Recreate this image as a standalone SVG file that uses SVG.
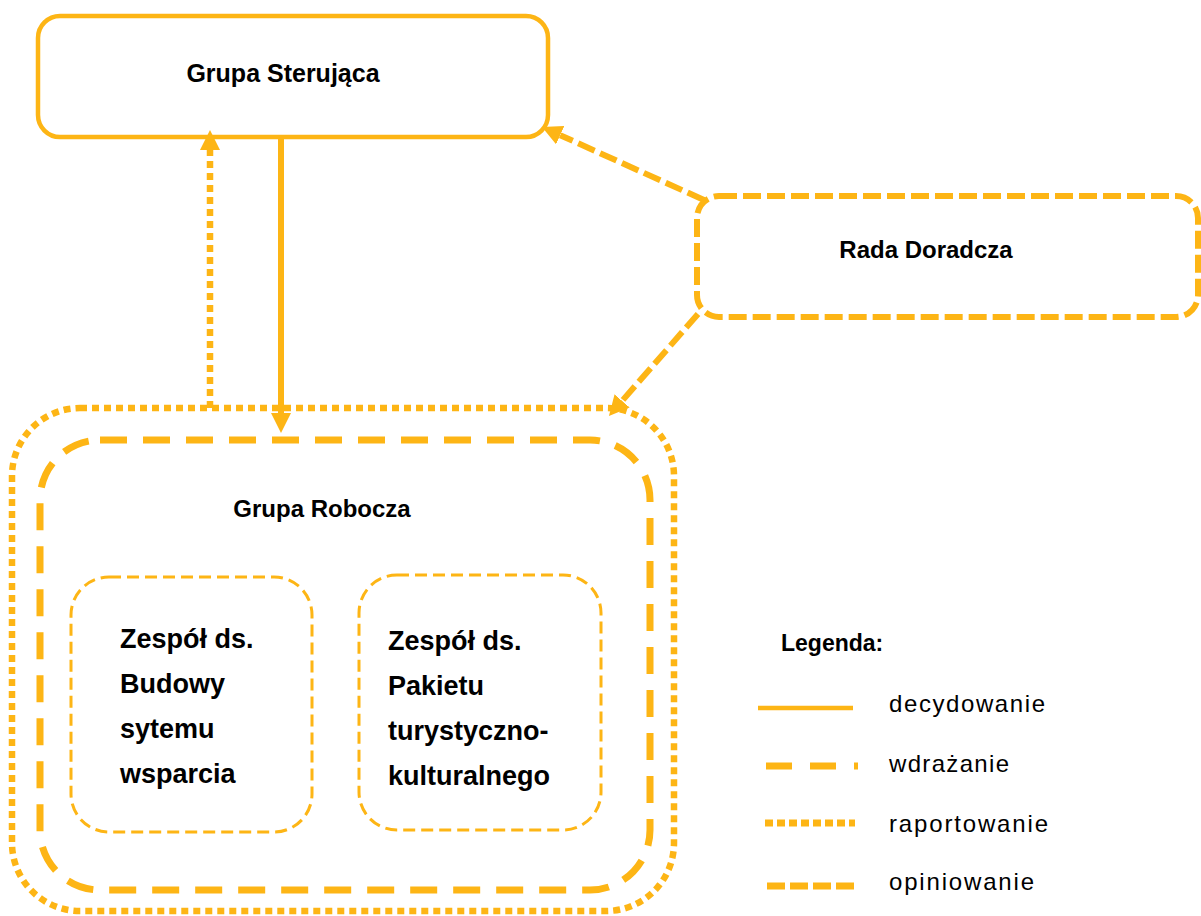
<svg xmlns="http://www.w3.org/2000/svg" width="1201" height="916" viewBox="0 0 1201 916">
<style>
.node{fill:#fff;stroke:#FDB515;}
.solid{stroke-width:4.5;}
.opin{stroke-width:6;stroke-dasharray:18 6;}
.wdr{stroke-width:7;stroke-dasharray:27 16;fill:none;}
.rap{stroke-width:6.5;stroke-dasharray:7 5;}
.thin{stroke-width:3;stroke-dasharray:12 6;}
.lbl{font-family:"Liberation Sans",Arial,sans-serif;font-weight:bold;fill:#000;}
.leg{font-family:"Liberation Sans",Arial,sans-serif;font-size:24px;fill:#000;}
.c{fill:none;stroke:#FDB515;}
</style>
<defs>
<marker id="arr" markerWidth="20" markerHeight="20" refX="0" refY="10" orient="auto" markerUnits="userSpaceOnUse">
<path d="M0,0 L20,10 L0,20 z" fill="#FDB515"/>
</marker>
</defs>
<rect width="1201" height="916" fill="#fff"/>

<g id="grupa-robocza">
<rect class="node rap" x="12" y="408" width="662" height="503" rx="68"/>
<rect class="node wdr" x="40" y="440" width="610" height="450" rx="60"/>
<text class="lbl" x="322" y="517" font-size="24" text-anchor="middle">Grupa Robocza</text>
</g>

<g id="zespol-budowy">
<rect class="node thin" x="71" y="577" width="241" height="255" rx="38"/>
<text class="lbl" font-size="27"><tspan x="120" y="648">Zespół ds.</tspan><tspan x="120" y="693">Budowy</tspan><tspan x="120" y="738">sytemu</tspan><tspan x="120" y="783">wsparcia</tspan></text>
</g>

<g id="zespol-pakietu">
<rect class="node thin" x="359" y="575" width="242" height="255" rx="38"/>
<text class="lbl" font-size="27"><tspan x="388" y="650">Zespół ds.</tspan><tspan x="388" y="695">Pakietu</tspan><tspan x="388" y="740">turystyczno-</tspan><tspan x="388" y="785">kulturalnego</tspan></text>
</g>

<g id="grupa-sterujaca">
<rect class="node solid" x="38" y="16" width="510" height="121" rx="22"/>
<text class="lbl" x="283" y="82" font-size="25" text-anchor="middle">Grupa Sterująca</text>
</g>

<g id="rada-doradcza">
<rect class="node opin" x="697" y="196" width="501" height="121" rx="22"/>
<text class="lbl" x="926" y="258" font-size="24" text-anchor="middle">Rada Doradcza</text>
</g>

<g id="connectors">
<line class="c" x1="281" y1="138" x2="281" y2="413" stroke-width="6" marker-end="url(#arr)"/>
<line class="c rap" x1="210" y1="408" x2="210" y2="150" marker-end="url(#arr)"/>
<line class="c opin" x1="704" y1="200" x2="560.2" y2="135.2" marker-end="url(#arr)"/>
<line class="c opin" x1="698" y1="314" x2="622.1" y2="400.9" marker-end="url(#arr)"/>
</g>

<g id="legenda">
<text class="lbl" x="781" y="651" font-size="23">Legenda:</text>
<line class="c" x1="758" y1="708" x2="853" y2="708" stroke-width="4.5"/>
<text class="leg" x="889" y="712" textLength="156" lengthAdjust="spacing">decydowanie</text>
<line class="c" x1="766" y1="766" x2="858" y2="766" stroke-width="7" stroke-dasharray="26 18"/>
<text class="leg" x="889" y="772" textLength="120" lengthAdjust="spacing">wdrażanie</text>
<line class="c" x1="765" y1="823" x2="855" y2="823" stroke-width="7" stroke-dasharray="8 4"/>
<text class="leg" x="889" y="832" textLength="159" lengthAdjust="spacing">raportowanie</text>
<line class="c" x1="767" y1="886" x2="855" y2="886" stroke-width="7" stroke-dasharray="18 5"/>
<text class="leg" x="889" y="890" textLength="145" lengthAdjust="spacing">opiniowanie</text>
</g>
</svg>
